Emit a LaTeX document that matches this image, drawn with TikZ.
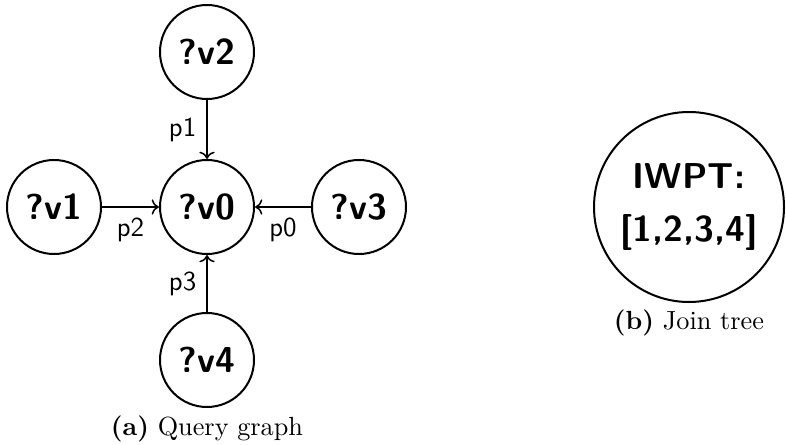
\documentclass[tikz,border=0pt]{standalone}
\usetikzlibrary{arrows.meta}
\begin{document}
\begin{tikzpicture}[x=0.4pt,y=-0.4pt,
  vnode/.style={circle,draw,line width=0.8pt,minimum size=37.6pt,inner sep=0pt,font=\sffamily\bfseries\Large},
  bignode/.style={circle,draw,line width=0.8pt,minimum size=76pt,inner sep=0pt,align=center,font=\sffamily\bfseries\Large},
  edgeline/.style={->,line width=0.6pt},
  elabel/.style={font=\sffamily\fontsize{11}{13}\selectfont,inner sep=4pt},
  captext/.style={font=\fontsize{10.5}{12.5}\selectfont,inner sep=0pt}]
\useasboundingbox (0,0) rectangle (786,445);
\node[vnode] (v0) at (207,207) {?v0};
\node[vnode] (v2) at (207,52) {?v2};
\node[vnode] (v1) at (54,207) {?v1};
\node[vnode] (v3) at (359,207) {?v3};
\node[vnode] (v4) at (207,360) {?v4};
\draw[edgeline] (v2) -- node[elabel,left] {p1} (v0);
\draw[edgeline] (v1) -- node[elabel,below] {p2} (v0);
\draw[edgeline] (v3) -- node[elabel,below] {p0} (v0);
\draw[edgeline] (v4) -- node[elabel,left] {p3} (v0);
\node[captext] (ca) at (207,429) {\textbf{(a)} Query graph};
\node[bignode] (jt) at (689,207) {IWPT:\\[3pt]{[1,2,3,4]}};
\node[captext] (cb) at (689,323) {\textbf{(b)} Join tree};
\end{tikzpicture}
\end{document}
